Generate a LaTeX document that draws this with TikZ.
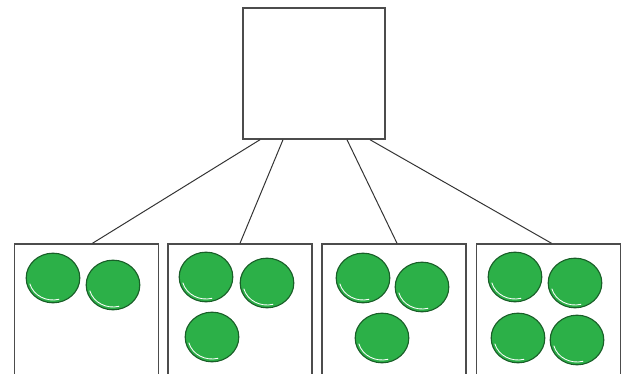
\documentclass[tikz,border=0pt]{standalone}
\usepackage{xcolor}
\usetikzlibrary{calc}

\definecolor{coingreen}{RGB}{44,176,72}
\definecolor{coinedge}{RGB}{25,95,40}
\tikzset{
  box/.style={draw=black!70,line width=1pt,fill=white,inner sep=0pt,minimum width=3.6cm},
  link/.style={draw=black!80,line width=0.7pt},
  coin/.style={fill=coingreen,draw=coinedge,line width=0.8pt}
}

\begin{document}
\begin{tikzpicture}[x=0.025cm,y=0.025cm]
\clip (0,0) rectangle (624,374);
\fill[white] (0,0) rectangle (624,374);

\node[box,minimum width=3.55cm,minimum height=3.275cm] (top) at (314,300.5) {};
\node[box,minimum height=3.75cm] (b1) at (86.5,55) {};
\node[box,minimum height=3.75cm] (b2) at (240,55) {};
\node[box,minimum height=3.75cm] (b3) at (394,55) {};
\node[box,minimum height=3.75cm] (b4) at (548.5,55) {};

\draw[link] ($(top.south)+(-54,0)$) -- ($(b1.north)+(6,0)$);
\draw[link] ($(top.south)+(-31,0)$) -- (b2.north);
\draw[link] ($(top.south)+(33,0)$) -- ($(b3.north)+(3,0)$);
\draw[link] ($(top.south)+(56,0)$) -- ($(b4.north)+(3,0)$);

% coins
\foreach \cx/\cy in {53/96,113/89,206/97,267/91,212/37,363/96,422/87,382/36,515/97,575/91,518/36,577/34}{
  \draw[coin] (\cx,\cy) ellipse (0.67cm and 0.62cm);
  \draw[white,line width=0.6pt] (\cx,\cy) ++(195:0.6cm and 0.55cm) arc (195:285:0.6cm and 0.55cm);
}
\end{tikzpicture}
\end{document}
